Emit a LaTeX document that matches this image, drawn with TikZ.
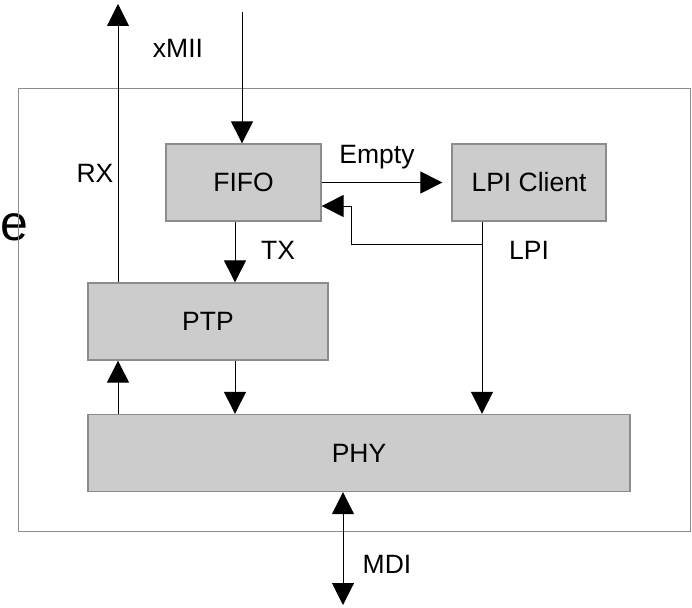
\documentclass[tikz,border=0pt]{standalone}
\usepackage{fontspec}
\setmainfont{Liberation Sans}
\usetikzlibrary{arrows.meta}
\begin{document}
\begin{tikzpicture}[x=1pt,y=-1pt,line width=1pt,font=\fontsize{26.5}{30}\selectfont,
    blk/.style={draw=black!45,line width=1.3pt,fill=black!20,minimum width=#1,minimum height=77pt,inner sep=0pt},
    arr/.style={-{Triangle[length=22pt,width=22pt]}},
    lbl/.style={anchor=base}]
    \useasboundingbox (0,0) rectangle (692,607);
    \node[lbl,font=\fontsize{50}{50}\selectfont] (e) at (14,240) {e};
    \draw[black!45] (18,89) rectangle (690,531);
    % blocks
    \node[blk=155pt] (fifo) at (243.5,182.5) {FIFO};
    \node[blk=154pt] (lpi) at (529,182.5) {LPI Client};
    \node[blk=240pt] (ptp) at (208,321.5) {PTP};
    \node[blk=542pt] (phy) at (359,453) {PHY};
    % free ends
    \coordinate (rxout) at (118,4);
    \coordinate (miiin) at (242,12);
    \coordinate (mdiout) at (343,605);
    \coordinate (tap) at (482,244);
    % connectors
    \draw[arr] (ptp.north -| rxout) -- (rxout);
    \draw[arr] (miiin) -- (fifo.north -| miiin);
    \draw[arr] ([xshift=-8.5pt]fifo.south) -- ([xshift=-8.5pt]fifo.south |- ptp.north);
    \draw[arr,shorten >=9pt] (fifo.east) -- (lpi.west);
    \draw (lpi.south -| tap) -- (tap);
    \draw[arr] (tap) -| ([xshift=30pt,yshift=-23.5pt]fifo.east) -- ([yshift=-23.5pt]fifo.east);
    \draw[arr] (tap) -- (phy.north -| tap);
    \draw[arr] ([xshift=27pt]ptp.south) -- ([xshift=27pt]ptp.south |- phy.north);
    \draw[arr] (phy.north -| rxout) -- (ptp.south -| rxout);
    \draw[{Triangle[length=22pt,width=22pt]}-{Triangle[length=22pt,width=22pt]}] (phy.south -| mdiout) -- (mdiout);
    % labels
    \node[lbl] (xmii) at (178,58) {xMII};
    \node[lbl] (rx) at (95,182) {RX};
    \node[lbl] (tx) at (278,259) {TX};
    \node[lbl] (empty) at (377,163) {Empty};
    \node[lbl] (lpilbl) at (529,259) {LPI};
    \node[lbl] (mdi) at (387,573) {MDI};
\end{tikzpicture}
\end{document}
